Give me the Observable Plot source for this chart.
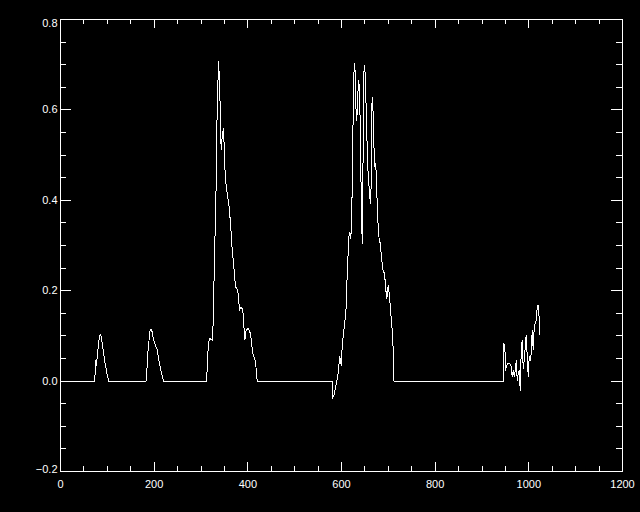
<!DOCTYPE html>
<html><head><meta charset="utf-8">
<script src="https://cdn.jsdelivr.net/npm/d3@7"></script>
<script src="https://cdn.jsdelivr.net/npm/@observablehq/plot@0.6"></script>
<style>
html,body{margin:0;padding:0;background:#000;}
svg{display:block;}
</style></head><body><div id="chart"></div>
<script>
const xValues = [
  0,73,74,75,76,77,78,80,82,84,85.5,87,89,91,93,95,97,99,101,103,
  183,184,185,187,189,191,193,195,197,199,201,203,205,206.5,208,211,214,217,220.5,
  312,314.6,316,319,324,327,328.8,331,332.4,334.6,337.4,338.8,341.7,343,345.9,348.7,349.5,
  352.3,355.9,359.4,363,366.6,370.1,373.7,378.6,382.2,385.9,389.3,393.6,396.5,400.8,405.7,410.6,416.4,420,
  580,581,584,587,590,592,594.4,596.5,599.3,601.5,605,607.2,610.1,612.2,615.8,617.9,620,622.2,624.3,626.4,
  628.5,630.6,632.7,634.9,637,639.1,641.3,644.2,645.4,647.6,649.7,651.8,654.6,656.8,658.9,661.7,663.2,665.3,
  666.7,668.8,671,673.1,674.8,677.5,680.5,682.7,685.4,688.3,691.9,694.7,696.9,699.8,702.5,705.3,708.3,710.4,711.7,
  946,946.7,948.8,950.3,952,955,959.4,962.4,964.5,966.7,968.8,971,973.1,975.2,977.4,979.5,981.6,983.8,985.9,
  988,990.2,992.3,994.4,996.6,998.7,1000.8,1003,1005.1,1007.2,1009.4,1011.5,1013.6,1015.8,1017.9,1020,1022.2,1023.5
];
const yValues = [
  0,0,0.02,0.045,0.035,0.04,0.05,0.07,0.09,0.1,0.104,0.098,0.085,0.07,0.055,0.04,0.03,0.018,0.008,0,
  0,0.02,0.032,0.069,0.09,0.11,0.114,0.112,0.1,0.09,0.085,0.078,0.072,0.07,0.06,0.04,0.025,0.012,0,
  0,0.06,0.085,0.094,0.09,0.15,0.31,0.33,0.45,0.607,0.706,0.68,0.585,0.511,0.548,0.559,0.504,
  0.445,0.415,0.393,0.349,0.29,0.253,0.209,0.201,0.157,0.164,0.157,0.091,0.113,0.117,0.105,0.061,0.043,0,
  0,-0.038,-0.03,-0.015,0,0.01,0.035,0.054,0.035,0.076,0.113,0.131,0.164,0.238,0.319,0.33,0.316,0.386,0.548,0.681,
  0.703,0.607,0.577,0.637,0.666,0.622,0.46,0.305,0.415,0.681,0.699,0.637,0.526,0.46,0.43,0.393,0.43,0.629,
  0.622,0.533,0.474,0.482,0.437,0.356,0.312,0.305,0.275,0.246,0.238,0.201,0.183,0.212,0.187,0.15,0.113,0.069,0,
  0,0.083,0.076,0.024,0.032,0.039,0.039,0.032,0.01,0.024,0.01,0.024,0.046,0.002,0.017,0.024,-0.02,0.069,0.091,
  0.028,0.046,0.076,0.102,0.054,0.01,0.054,0.046,0.061,0.113,0.069,0.12,0.128,0.135,0.164,0.168,0.139,0.102
];
const xMajor = [0,200,400,600,800,1000,1200];
const xMinor = [50,100,150,250,300,350,450,500,550,650,700,750,850,900,950,1050,1100,1150];
const yMajor = [-0.2,0,0.2,0.4,0.6,0.8];
const yMinor = [-0.15,-0.1,-0.05,0.05,0.1,0.15,0.25,0.3,0.35,0.45,0.5,0.55,0.65,0.7,0.75];
const yLabelsMid = [0,0.2,0.4,0.6];

const data = xValues.map((x, i) => ({x, y: yValues[i]}));

const W = 640, H = 512, mL = 60, mR = 18, mT = 19, mB = 41;
const fw = W - mL - mR, fh = H - mT - mB;
const xMaj = 9, xMin = 5, yMaj = 11, yMin = 6;
const white = "#fff";
const crisp = {stroke: white, strokeWidth: 1, shapeRendering: "crispEdges"};
const fmtY = d3.format(".1f");

const chart = Plot.plot({
  width: W, height: H,
  marginLeft: mL, marginRight: mR, marginTop: mT, marginBottom: mB,
  style: {background: "#000", color: white, fontFamily: "'Liberation Sans', Arial, sans-serif", fontSize: "11px"},
  x: {domain: [0, 1200], label: null},
  y: {domain: [-0.2, 0.8], label: null},
  marks: [
    Plot.ruleX(xMajor, {x: d => d, insetTop: fh - xMaj, ...crisp}),
    Plot.ruleX(xMajor, {x: d => d, insetBottom: fh - xMaj, ...crisp}),
    Plot.ruleX(xMinor, {x: d => d, insetTop: fh - xMin, ...crisp}),
    Plot.ruleX(xMinor, {x: d => d, insetBottom: fh - xMin, ...crisp}),
    Plot.ruleY(yMajor, {y: d => d, insetRight: fw - yMaj, ...crisp}),
    Plot.ruleY(yMajor, {y: d => d, insetLeft: fw - yMaj, ...crisp}),
    Plot.ruleY(yMinor, {y: d => d, insetRight: fw - yMin, ...crisp}),
    Plot.ruleY(yMinor, {y: d => d, insetLeft: fw - yMin, ...crisp}),
    Plot.axisX(xMajor, {anchor: "bottom", tickSize: 0, tickPadding: 9, label: null, tickFormat: d => String(d)}),
    Plot.axisY(yLabelsMid, {anchor: "left", tickSize: 0, tickPadding: 3, label: null, tickFormat: fmtY}),
    Plot.axisY([0.8], {anchor: "left", tickSize: 0, tickPadding: 3, label: null, tickFormat: fmtY, dy: 4}),
    Plot.axisY([-0.2], {anchor: "left", tickSize: 0, tickPadding: 3, label: null, tickFormat: fmtY, dy: -2}),
    Plot.line(data, {x: "x", y: "y", stroke: white, strokeWidth: 1, shapeRendering: "crispEdges"}),
    Plot.frame({...crisp})
  ]
});
document.getElementById("chart").appendChild(chart);
</script>
</body></html>
